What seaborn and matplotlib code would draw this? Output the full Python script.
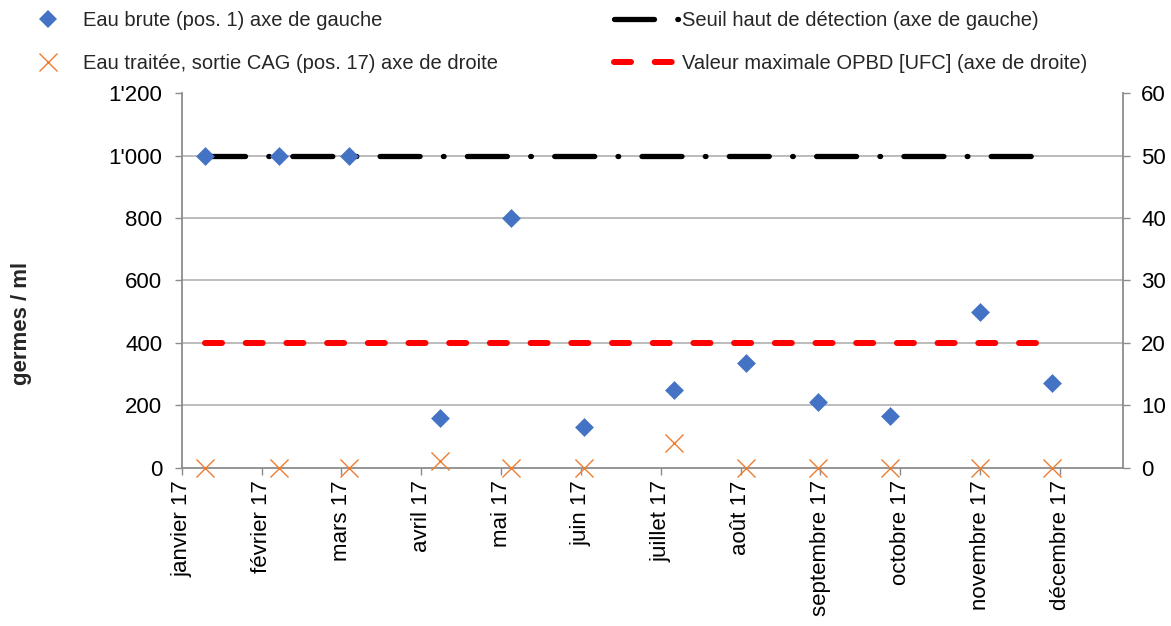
import numpy as np
import pandas as pd
import matplotlib
matplotlib.use("Agg")
import matplotlib.pyplot as plt
from matplotlib.lines import Line2D
from matplotlib.ticker import FuncFormatter
import seaborn as sns

# Sampling dates and measurements (2017)
sample_dates = ["2017-01-10", "2017-02-07", "2017-03-04", "2017-04-08", "2017-05-05", "2017-06-02",
                "2017-07-06", "2017-08-03", "2017-08-31", "2017-09-27", "2017-11-01", "2017-11-28"]
raw_water = [1000, 1000, 1000, 160, 800, 130, 250, 335, 210, 165, 500, 270]      # germes / ml, left axis
treated_water = [0, 0, 0, 1, 0, 0, 4, 0, 0, 0, 0, 0]                             # UFC, right axis
detection_limit = [1000] * 12                                                    # left axis
opbd_max = [20] * 12                                                             # right axis

left_ticks = [0, 200, 400, 600, 800, 1000, 1200]
right_ticks = [0, 10, 20, 30, 40, 50, 60]
month_labels = ["janvier 17", "février 17", "mars 17", "avril 17", "mai 17", "juin 17",
                "juillet 17", "août 17", "septembre 17", "octobre 17", "novembre 17", "décembre 17"]

label_raw = "Eau brute (pos. 1) axe de gauche"
label_treated = "Eau traitée, sortie CAG (pos. 17) axe de droite"
label_limit = "Seuil haut de détection (axe de gauche)"
label_opbd = "Valeur maximale OPBD [UFC] (axe de droite)"


def month_position(day):
    """Position on a month-based axis: month index plus fraction of the month."""
    ts = pd.Timestamp(day)
    return (ts.month - 1) + (ts.day - 1) / ts.days_in_month


df = pd.DataFrame({
    "pos": [month_position(d) for d in sample_dates],
    "raw": raw_water,
    "treated": treated_water,
    "limit": detection_limit,
    "opbd": opbd_max,
})

sns.set_theme(style="white")
plt.rcParams["font.family"] = ["Liberation Sans", "DejaVu Sans"]
plt.rcParams["lines.scale_dashes"] = False

PX = 0.72  # points per pixel at 100 dpi
BLUE = "#4472C4"
ORANGE = "#ED7D31"
RED = "#FF0000"
AXIS_GREY = "#8c8c8c"
GRID_GREY = "#a9a9a9"

black_style = (0, (40 * PX, 23.3 * PX, 0.7 * PX, 23.3 * PX))
red_style = (0, (17 * PX, 23.7 * PX))

W, H = 1171, 626
x0, x1, y_top, y_bot = 181.7, 1123, 93.3, 467.7
fig = plt.figure(figsize=(W / 100, H / 100), dpi=100)
ax = fig.add_axes([x0 / W, 1 - y_bot / H, (x1 - x0) / W, (y_bot - y_top) / H])
ax2 = ax.twinx()

# Left axis: detection limit line and raw water samples
sns.lineplot(data=df, x="pos", y="limit", ax=ax, color="black", linewidth=5.3 * PX,
             linestyle=black_style, dash_capstyle="round", errorbar=None, zorder=3)
sns.scatterplot(data=df, x="pos", y="raw", ax=ax, marker="D", s=92, color=BLUE,
                linewidth=0, zorder=4, clip_on=False)

# Right axis: OPBD maximum and treated water samples
sns.lineplot(data=df, x="pos", y="opbd", ax=ax2, color=RED, linewidth=6 * PX,
             linestyle=red_style, dash_capstyle="round", errorbar=None, zorder=3)
sns.scatterplot(data=df, x="pos", y="treated", ax=ax2, marker="x", s=169, color=ORANGE,
                linewidth=1.0, zorder=4, clip_on=False)

ax.set_xlim(0, (x1 - x0) / 79.85)
ax.set_ylim(0, 1200)
ax2.set_ylim(0, 60)

ax.set_xticks(range(len(month_labels)))
ax.set_xticklabels(month_labels, rotation=90, ha="center", va="top")
ax.set_yticks(left_ticks)
ax.yaxis.set_major_formatter(FuncFormatter(lambda v, _: f"{v:,.0f}".replace(",", "'")))
ax2.set_yticks(right_ticks)

ax.set_xlabel("")
ax2.set_xlabel("")
ax2.set_ylabel("")
ax.set_ylabel("germes / ml", fontsize=16, fontweight="bold")
ax.yaxis.set_label_coords((32 - x0) / (x1 - x0), (y_bot - 323) / (y_bot - y_top))

ax.tick_params(axis="x", bottom=True, direction="out", length=5, width=1.0, pad=4,
               labelsize=16, color=AXIS_GREY, labelcolor="black")
ax.tick_params(axis="y", left=True, direction="out", length=5, width=1.0, pad=9,
               labelsize=16, color=AXIS_GREY, labelcolor="black")
ax2.tick_params(axis="y", right=True, direction="out", length=5, width=1.0, pad=8,
                labelsize=16, color=AXIS_GREY, labelcolor="black")

ax.yaxis.grid(True, color=GRID_GREY, linewidth=1.1)
ax.set_axisbelow(True)
for gl, t in zip(ax.yaxis.get_gridlines(), ax.get_yticks()):
    if t in (0, 1200):
        gl.set_visible(False)

for name, sp in ax.spines.items():
    sp.set_visible(name in ("left", "bottom"))
    sp.set_color(AXIS_GREY)
    sp.set_linewidth(1.3)
for name, sp in ax2.spines.items():
    sp.set_visible(name == "right")
    sp.set_color(AXIS_GREY)
    sp.set_linewidth(1.3)

# Legends above the plot area
marker_handles = [
    Line2D([], [], linestyle="none", marker="D", markersize=9.6, color=BLUE, markeredgewidth=0),
    Line2D([], [], linestyle="none", marker="x", markersize=13, color=ORANGE, markeredgewidth=1.0),
]
line_handles = [
    Line2D([], [], color="black", linewidth=5.3 * PX, linestyle=black_style, dash_capstyle="round"),
    Line2D([], [], color=RED, linewidth=6 * PX, linestyle=red_style, dash_capstyle="round"),
]
leg_kw = dict(loc="upper left", frameon=False, borderaxespad=0, borderpad=0,
              fontsize=14.5, labelspacing=1.2)
leg1 = fig.legend(marker_handles, [label_raw, label_treated],
                  bbox_to_anchor=(28 / W, 1 - 11 / H), handlelength=2.0, handletextpad=0.75, **leg_kw)
leg2 = fig.legend(line_handles, [label_limit, label_opbd],
                  bbox_to_anchor=(614 / W, 1 - 11 / H), handlelength=3.2, handletextpad=0.2, **leg_kw)

fig.savefig("out.png", dpi=100)
